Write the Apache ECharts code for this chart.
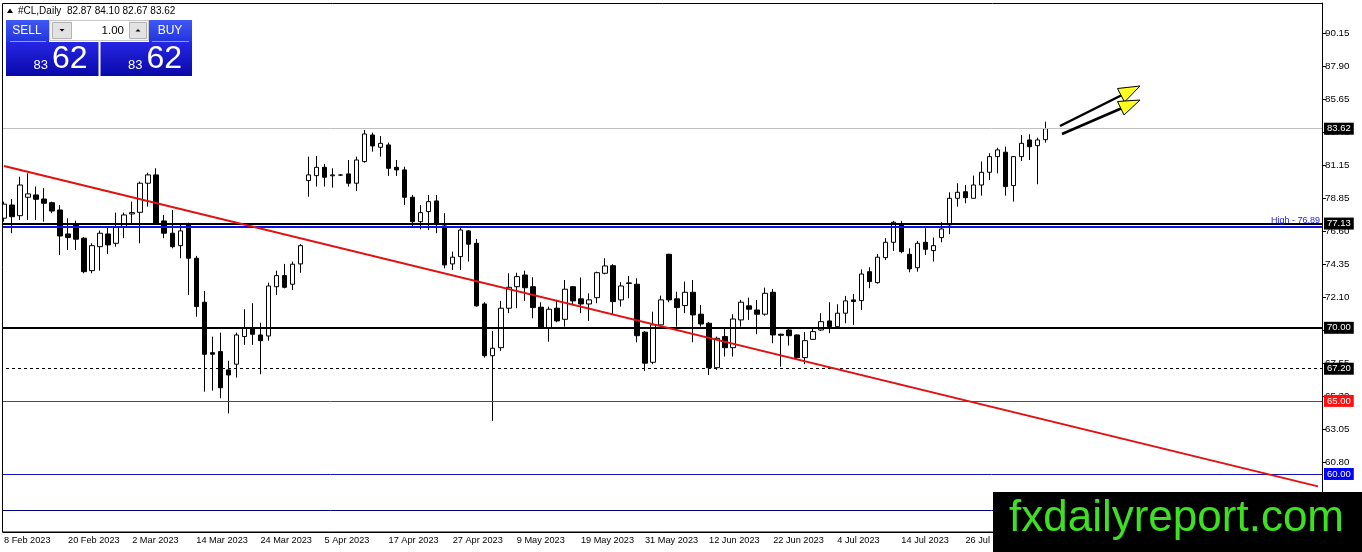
<!DOCTYPE html>
<html>
<head>
<meta charset="utf-8">
<title>#CL,Daily</title>
<script src="https://cdn.jsdelivr.net/npm/echarts@6/dist/echarts.min.js"></script>
<style>
html, body { margin: 0; padding: 0; background: #fff; }
#mycharts { width: 1362px; height: 552px; }
</style>
</head>
<body>
<div id="mycharts"></div>
<script>
// trading days on the chart (2023), one list per month
var febDays = [8, 9, 10, 13, 14, 15, 16, 17, 20, 21, 22, 23, 24, 27, 28];
var marDays = [1, 2, 3, 6, 7, 8, 9, 10, 13, 14, 15, 16, 17, 20, 21, 22, 23, 24, 27, 28, 29, 30, 31];
var aprDays = [3, 4, 5, 6, 7, 10, 11, 12, 13, 14, 17, 18, 19, 20, 21, 24, 25, 26, 27, 28];
var mayDays = [1, 2, 3, 4, 5, 8, 9, 10, 11, 12, 15, 16, 17, 18, 19, 22, 23, 24, 25, 26, 29, 30, 31];
var junDays = [1, 2, 5, 6, 7, 8, 9, 12, 13, 14, 15, 16, 19, 20, 21, 22, 23, 26, 27, 28, 29, 30];
var julDays = [3, 4, 5, 6, 7, 10, 11, 12, 13, 14, 17, 18, 19, 20, 21, 24, 25, 26, 27, 28, 31];
var augDays = [1, 2, 3, 4, 7, 8, 9];
var blankBars = 34; // empty space right of the last bar

// daily OHLC of #CL
var opens = [
	77.50, 78.40, 77.67, 78.93, 79.09, 78.81, 78.56, 78.06, 76.42, 77.04,
	76.13, 73.91, 75.55, 76.42, 75.78, 76.88, 77.79, 77.90, 79.89, 80.46,
	77.31, 76.47, 75.62, 77.10, 74.76, 71.75, 68.30, 68.37, 67.12, 67.51,
	69.40, 69.97, 69.51, 69.44, 72.81, 73.57, 72.98, 74.37, 80.07, 80.41,
	80.98, 80.40, 80.45, 80.53, 79.89, 81.37, 83.19, 82.35, 82.51, 80.98,
	80.80, 78.93, 77.26, 77.95, 78.68, 76.97, 74.37, 74.87, 76.63, 75.78,
	71.63, 68.09, 68.64, 71.34, 72.81, 73.61, 72.81, 71.41, 70.01, 71.34,
	70.58, 72.81, 71.98, 71.63, 72.06, 73.73, 74.25, 71.91, 73.07, 72.98,
	69.70, 67.64, 70.20, 75.03, 71.98, 71.52, 72.43, 70.93, 70.31, 67.27,
	69.40, 68.64, 70.54, 71.50, 71.22, 70.93, 72.43, 69.56, 69.85, 69.51,
	67.96, 69.21, 69.85, 70.47, 70.08, 71.00, 71.91, 71.86, 73.84, 73.09,
	74.80, 75.85, 77.08, 75.03, 74.11, 75.85, 75.28, 76.17, 77.04, 78.86,
	79.31, 78.86, 79.77, 80.64, 81.71, 82.01, 79.73, 81.71, 82.85, 82.46,
	82.87
];
var highs = [
	78.63, 78.81, 80.34, 80.57, 79.66, 79.55, 78.63, 78.40, 77.49, 77.33,
	76.20, 75.78, 76.65, 76.88, 77.88, 77.88, 78.63, 80.00, 80.61, 80.91,
	77.72, 78.06, 77.04, 77.19, 74.92, 72.52, 69.40, 69.67, 67.75, 69.67,
	71.27, 71.68, 70.35, 73.09, 73.91, 74.37, 74.53, 75.72, 81.71, 81.76,
	81.21, 80.91, 80.50, 81.48, 81.71, 83.53, 83.35, 83.12, 82.67, 81.48,
	81.02, 79.09, 78.40, 79.09, 79.09, 77.84, 75.21, 76.97, 76.69, 76.08,
	71.75, 69.78, 71.84, 73.73, 73.77, 73.91, 73.46, 71.75, 71.45, 71.91,
	73.27, 72.86, 73.44, 72.36, 73.84, 74.76, 74.35, 73.12, 73.55, 73.39,
	69.78, 71.10, 72.20, 75.06, 72.47, 73.16, 73.27, 71.56, 70.38, 69.40,
	69.97, 70.93, 71.91, 72.06, 71.91, 72.75, 72.66, 69.60, 69.97, 69.56,
	69.70, 69.97, 71.00, 71.75, 71.61, 72.18, 72.32, 74.00, 74.14, 75.05,
	76.13, 77.31, 77.31, 75.44, 75.94, 76.81, 76.17, 77.22, 79.27, 79.89,
	79.77, 80.41, 81.37, 81.94, 82.32, 82.39, 81.75, 83.19, 83.24, 83.01,
	84.10
];
var lows = [
	77.26, 76.47, 77.38, 77.38, 77.38, 77.26, 77.84, 74.98, 75.33, 75.33,
	73.73, 73.73, 73.91, 75.05, 75.55, 76.13, 77.15, 75.78, 78.29, 77.04,
	76.13, 75.44, 74.76, 72.25, 70.76, 65.63, 65.70, 65.18, 64.15, 66.59,
	68.83, 68.83, 66.82, 69.12, 72.25, 72.70, 72.59, 73.77, 78.97, 79.66,
	79.66, 79.59, 80.40, 79.66, 79.36, 81.30, 82.05, 81.71, 80.39, 80.39,
	78.40, 76.92, 76.74, 76.69, 76.47, 74.07, 73.96, 73.96, 74.53, 71.45,
	67.96, 63.63, 68.42, 71.00, 71.34, 71.84, 70.65, 69.97, 69.05, 70.38,
	70.08, 71.56, 71.00, 70.47, 71.68, 73.66, 70.93, 71.45, 72.02, 69.01,
	67.05, 67.51, 70.08, 71.75, 70.08, 71.00, 69.01, 70.08, 66.77, 67.12,
	68.03, 68.03, 70.08, 70.54, 69.56, 70.83, 68.94, 67.34, 68.78, 67.87,
	67.51, 69.17, 69.78, 69.63, 70.01, 70.31, 70.20, 71.22, 72.71, 73.02,
	74.64, 75.26, 75.10, 73.80, 73.84, 74.98, 74.53, 75.85, 76.40, 78.29,
	78.52, 78.86, 79.04, 80.11, 80.57, 79.04, 78.63, 81.41, 81.48, 79.82,
	82.67
];
var closes = [
	78.46, 77.60, 79.77, 79.16, 78.79, 78.52, 77.99, 76.28, 76.17, 76.06,
	73.84, 75.62, 76.47, 75.67, 76.88, 77.72, 77.88, 79.89, 80.46, 77.10,
	76.47, 75.55, 76.63, 74.76, 71.45, 68.19, 68.19, 65.90, 66.77, 69.51,
	69.97, 69.56, 69.12, 72.86, 73.57, 72.77, 74.35, 75.62, 80.46, 80.98,
	80.30, 80.46, 80.45, 79.89, 81.48, 83.26, 82.44, 82.62, 80.91, 80.80,
	78.93, 77.26, 77.88, 78.63, 77.15, 74.30, 74.83, 76.69, 75.72, 71.50,
	68.09, 68.60, 71.34, 72.77, 73.50, 72.74, 71.38, 70.01, 71.27, 70.47,
	72.64, 71.84, 71.63, 71.91, 73.77, 74.23, 71.79, 72.86, 73.04, 69.46,
	67.58, 70.20, 71.91, 71.91, 71.38, 72.43, 70.88, 70.26, 67.27, 69.28,
	68.64, 70.60, 71.75, 71.27, 70.93, 72.36, 69.51, 69.49, 69.46, 67.96,
	69.12, 69.74, 70.42, 70.08, 71.00, 71.84, 71.80, 73.68, 73.16, 74.83,
	75.85, 77.22, 75.21, 74.03, 75.78, 75.37, 75.62, 76.76, 78.86, 79.27,
	78.90, 79.77, 80.64, 81.71, 82.17, 79.66, 81.71, 82.62, 82.39, 82.85,
	83.62
];

// right price scale
var priceTicks = [60.80, 63.05, 65.30, 67.55, 69.85, 72.10, 74.35, 76.60, 78.85, 81.15, 83.40, 85.65, 87.90, 90.15];
// horizontal levels: resistance, high, 70, dashed, 65, 60, bottom
var levelValues = [77.13, 76.89, 70.00, 67.20, 65.00, 60.00, 57.50];
// red trend line, value at first bar and at the right edge
var trendValues = [81.07, 59.15];

var monthNames = ['Feb', 'Mar', 'Apr', 'May', 'Jun', 'Jul', 'Aug'];
var monthDays = [febDays, marDays, aprDays, mayDays, junDays, julDays, augDays];
var categories = [];
for (var m = 0; m < monthDays.length; m++) {
	for (var d = 0; d < monthDays[m].length; d++) {
		categories.push(monthDays[m][d] + ' ' + monthNames[m] + ' 2023');
	}
}
for (var b = 0; b < blankBars; b++) {
	categories.push('');
}

var candles = [];
for (var i = 0; i < opens.length; i++) {
	candles.push([opens[i], closes[i], lows[i], highs[i]]);
}
var last = opens.length - 1;
var bid = closes[last];
var bidBig = bid.toFixed(2).split('.');

var axisFont = 'Liberation Sans';

function boxLabel(bg) {
	return {
		show: true,
		position: 'end',
		distance: 2,
		formatter: function(p) { return p.value.toFixed(2); },
		color: '#fff',
		backgroundColor: bg,
		fontSize: 9.5,
		fontFamily: axisFont,
		padding: [1, 3, 1, 3],
		lineHeight: 10
	};
}

function arrowHead(color) {
	return { fill: color, stroke: '#000', lineWidth: 1 };
}

// 基于准备好的dom，初始化echarts实例
var myChart = echarts.init(document.getElementById('mycharts'));
myChart.setOption({
	animation: false,
	backgroundColor: '#fff',
	grid: {
		left: -0.7,
		right: 40,
		top: 3,
		bottom: 20
	},
	xAxis: {
		type: 'category',
		data: categories,
		boundaryGap: true,
		axisLine: { onZero: false, lineStyle: { color: '#000', width: 1 } },
		axisTick: { interval: 7, alignWithLabel: true, length: 4, lineStyle: { color: '#000' } },
		axisLabel: { interval: 7, align: 'left', color: '#000', fontSize: 9.2, fontFamily: axisFont, margin: 4 },
		splitLine: { show: false }
	},
	yAxis: {
		type: 'value',
		position: 'right',
		min: 56.03,
		max: 92.22,
		axisLine: { show: true, onZero: false, lineStyle: { color: '#000', width: 1 } },
		axisTick: { show: true, customValues: priceTicks, length: 4, lineStyle: { color: '#000' } },
		axisLabel: {
			customValues: priceTicks,
			formatter: function(v) { return v.toFixed(2); },
			color: '#000',
			fontSize: 9.8,
			fontFamily: axisFont,
			margin: 3
		},
		splitLine: { show: false }
	},
	series: [{
		name: '#CL,Daily',
		type: 'candlestick',
		data: candles,
		barWidth: 5,
		itemStyle: {
			color: '#fff',
			color0: '#000',
			borderColor: '#000',
			borderColor0: '#000',
			borderWidth: 1
		},
		markLine: {
			silent: true,
			symbol: 'none',
			animation: false,
			data: [
				{ yAxis: bid, lineStyle: { color: '#c0c0c0', width: 1, type: 'solid' }, label: boxLabel('#000') },
				{ yAxis: levelValues[0], lineStyle: { color: '#000', width: 2, type: 'solid' }, label: boxLabel('#000') },
				{ yAxis: levelValues[1], lineStyle: { color: '#1010e8', width: 2, type: 'solid' },
					label: { show: true, position: 'insideEndTop', distance: 2, formatter: 'High - ' + levelValues[1].toFixed(2),
						color: '#2020ff', fontSize: 9, fontFamily: axisFont } },
				{ yAxis: levelValues[2], lineStyle: { color: '#000', width: 2, type: 'solid' }, label: boxLabel('#000') },
				{ yAxis: levelValues[3], lineStyle: { color: '#000', width: 1, type: [3, 3] }, label: boxLabel('#000') },
				{ yAxis: levelValues[4], lineStyle: { color: '#e01010', width: 1, type: 'solid' }, label: boxLabel('#ff1010') },
				{ yAxis: levelValues[5], lineStyle: { color: '#1414c0', width: 1, type: 'solid' }, label: boxLabel('#0000ff') },
				{ yAxis: levelValues[6], lineStyle: { color: '#000080', width: 1, type: 'solid' }, label: boxLabel('#000080') },
				[
					{ coord: [0, trendValues[0]], lineStyle: { color: '#e31010', width: 2, type: 'solid' }, label: { show: false } },
					{ coord: [categories.length - 1, trendValues[1]] }
				]
			]
		}
	}],
	graphic: { elements: [
		// frame
		{ type: 'rect', z: 90, shape: { x: 0, y: 0, width: 2.5, height: 552 }, style: { fill: '#fff' } },
		{ type: 'rect', z: 91, shape: { x: 2.5, y: 3.5, width: 1320, height: 528.5 }, style: { fill: 'none', stroke: '#000', lineWidth: 1 } },
		// header
		{ type: 'polygon', z: 95, shape: { points: [[7, 13], [13, 13], [10, 8.5]] }, style: { fill: '#000' } },
		{ type: 'text', z: 95, x: 18, y: 11,
			style: { text: '#CL,Daily  ' + opens[last].toFixed(2) + ' ' + highs[last].toFixed(2) + ' ' + lows[last].toFixed(2) + ' ' + closes[last].toFixed(2),
				fill: '#000', fontSize: 10, fontFamily: axisFont, verticalAlign: 'middle' } },
		// one click trading panel
		{ type: 'rect', z: 95, shape: { x: 6, y: 20, width: 43, height: 22 },
			style: { fill: new echarts.graphic.LinearGradient(0, 0, 0, 1, [{ offset: 0, color: '#4058f6' }, { offset: 1, color: '#2234dc' }]) } },
		{ type: 'rect', z: 95, shape: { x: 149, y: 20, width: 43, height: 22 },
			style: { fill: new echarts.graphic.LinearGradient(0, 0, 0, 1, [{ offset: 0, color: '#4058f6' }, { offset: 1, color: '#2234dc' }]) } },
		{ type: 'line', z: 96, shape: { x1: 10, y1: 41.5, x2: 46, y2: 41.5 }, style: { stroke: '#8c98ff', lineWidth: 1 } },
		{ type: 'line', z: 96, shape: { x1: 152, y1: 41.5, x2: 189, y2: 41.5 }, style: { stroke: '#8c98ff', lineWidth: 1 } },
		{ type: 'text', z: 96, x: 27, y: 31, style: { text: 'SELL', fill: '#fff', fontSize: 12, fontFamily: axisFont, align: 'center', verticalAlign: 'middle' } },
		{ type: 'text', z: 96, x: 170, y: 31, style: { text: 'BUY', fill: '#fff', fontSize: 12, fontFamily: axisFont, align: 'center', verticalAlign: 'middle' } },
		{ type: 'rect', z: 95, shape: { x: 49.5, y: 20.5, width: 99, height: 20 }, style: { fill: '#f2f2f2', stroke: '#c8c8c8', lineWidth: 1 } },
		{ type: 'rect', z: 96, shape: { x: 52.5, y: 22.5, width: 19, height: 16 }, style: { fill: '#e2e2e2', stroke: '#b4b4b4', lineWidth: 1 } },
		{ type: 'rect', z: 96, shape: { x: 72, y: 21, width: 57, height: 19 }, style: { fill: '#fff' } },
		{ type: 'rect', z: 96, shape: { x: 129.5, y: 22.5, width: 17, height: 16 }, style: { fill: '#e2e2e2', stroke: '#b4b4b4', lineWidth: 1 } },
		{ type: 'polygon', z: 97, shape: { points: [[59.5, 29], [64.5, 29], [62, 31.5]] }, style: { fill: '#000' } },
		{ type: 'polygon', z: 97, shape: { points: [[135.5, 31.5], [140.5, 31.5], [138, 29]] }, style: { fill: '#000' } },
		{ type: 'text', z: 97, x: 124, y: 30.5, style: { text: '1.00', fill: '#000', fontSize: 11.5, fontFamily: axisFont, align: 'right', verticalAlign: 'middle' } },
		{ type: 'rect', z: 95, shape: { x: 6, y: 42, width: 92.5, height: 34 },
			style: { fill: new echarts.graphic.LinearGradient(0, 0, 0, 1, [{ offset: 0, color: '#2626e4' }, { offset: 1, color: '#0808a8' }]) } },
		{ type: 'rect', z: 95, shape: { x: 100.5, y: 42, width: 91.5, height: 34 },
			style: { fill: new echarts.graphic.LinearGradient(0, 0, 0, 1, [{ offset: 0, color: '#2626e4' }, { offset: 1, color: '#0808a8' }]) } },
		{ type: 'text', z: 96, x: 48, y: 65.5, style: { text: bidBig[0], fill: '#fff', fontSize: 13, fontFamily: axisFont, align: 'right', verticalAlign: 'middle' } },
		{ type: 'text', z: 96, x: 52, y: 59, style: { text: bidBig[1], fill: '#fff', fontSize: 32, fontFamily: axisFont, verticalAlign: 'middle' } },
		{ type: 'text', z: 96, x: 142.5, y: 65.5, style: { text: bidBig[0], fill: '#fff', fontSize: 13, fontFamily: axisFont, align: 'right', verticalAlign: 'middle' } },
		{ type: 'text', z: 96, x: 146.5, y: 59, style: { text: bidBig[1], fill: '#fff', fontSize: 32, fontFamily: axisFont, verticalAlign: 'middle' } },
		// arrows
		{ type: 'line', z: 95, shape: { x1: 1060, y1: 126, x2: 1121, y2: 95.5 }, style: { stroke: '#000', lineWidth: 2.5 } },
		{ type: 'polygon', z: 96, shape: { points: [[1140, 86], [1124.5, 102], [1117.5, 88.5]] }, style: arrowHead('#ffff20') },
		{ type: 'line', z: 95, shape: { x1: 1062, y1: 134, x2: 1121, y2: 108.5 }, style: { stroke: '#000', lineWidth: 2.5 } },
		{ type: 'polygon', z: 96, shape: { points: [[1140, 100], [1124, 115], [1117.5, 101.5]] }, style: arrowHead('#ffff20') },
		// watermark
		{ type: 'rect', z: 100, shape: { x: 993, y: 492, width: 369, height: 60 }, style: { fill: '#000' } },
		{ type: 'text', z: 101, x: 1009, y: 519, style: { text: 'fxdailyreport.com', fill: '#3ee022', fontSize: 44, fontFamily: axisFont, verticalAlign: 'middle' } }
	] }
});
</script>
</body>
</html>
